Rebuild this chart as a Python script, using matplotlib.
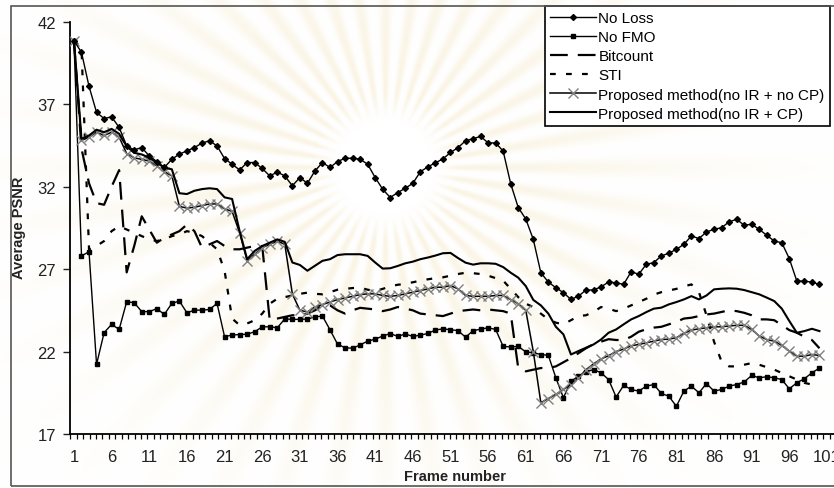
import numpy as np
import matplotlib
matplotlib.use("Agg")
import matplotlib.pyplot as plt
from matplotlib.patches import Rectangle
from matplotlib.lines import Line2D

# ---------------------------------------------------------------- data
frames = list(range(1, 101))
x_tick_values = list(range(1, 102, 5))
x_tick_labels = [str(v) for v in x_tick_values]
y_ticks = [17, 22, 27, 32, 37, 42]

no_loss = [40.85, 40.14, 38.08, 36.5, 36.13, 36.23, 35.59, 34.47, 34.23, 34.37,
           33.86, 33.52, 33.16, 33.66, 33.97, 34.17, 34.37, 34.64, 34.78, 34.47,
           33.7, 33.36, 33.01, 33.46, 33.46, 33.1, 32.65, 32.88, 32.65, 32.05,
           32.55, 32.2, 32.95, 33.46, 33.16, 33.52, 33.72, 33.72, 33.66, 33.36,
           32.55, 31.84, 31.34, 31.64, 31.9, 32.2, 32.9, 33.2, 33.44, 33.68,
           34.07, 34.36, 34.78, 34.9, 35.05, 34.65, 34.65, 34.15, 32.17, 30.73,
           30.04, 28.8, 26.78, 26.21, 25.87, 25.57, 25.16, 25.36, 25.73, 25.73,
           25.93, 26.21, 26.17, 26.07, 26.85, 26.68, 27.29, 27.39, 27.8, 27.96,
           28.2, 28.5, 29.01, 28.85, 29.25, 29.41, 29.51, 29.86, 30.02, 29.66,
           29.72, 29.41, 29.05, 28.7, 28.6, 27.63, 26.27, 26.27, 26.21, 26.07]

no_fmo = [40.85, 27.8, 28.05, 21.22, 23.14, 23.65, 23.34, 25.02, 24.96, 24.42,
          24.42, 24.6, 24.25, 24.92, 25.06, 24.35, 24.51, 24.51, 24.55, 24.92,
          22.9, 23.0, 23.03, 23.05, 23.2, 23.5, 23.5, 23.44, 23.98, 23.95,
          23.95, 23.97, 24.1, 24.15, 23.32, 22.45, 22.23, 22.2, 22.4, 22.63,
          22.75, 22.94, 23.09, 22.92, 23.06, 22.92, 22.99, 23.1, 23.3, 23.38,
          23.32, 23.27, 22.87, 23.26, 23.36, 23.44, 23.34, 22.31, 22.28, 22.31,
          21.98, 21.93, 21.82, 21.77, 20.4, 19.2, 20.2, 20.5, 20.76, 20.91,
          20.71, 20.3, 19.24, 19.95, 19.7, 19.6, 19.9, 20.0, 19.46, 19.29,
          18.68, 19.6, 19.9, 19.5, 20.06, 19.6, 19.7, 19.9, 20.0, 20.15,
          20.55, 20.41, 20.47, 20.41, 20.3, 19.74, 20.11, 20.35, 20.71, 21.0]

bitcount = [40.85, 34.3, 32.2, 31.0, 30.9, 32.0, 33.0, 26.8, 28.4, 30.2,
            29.4, 28.6, 28.9, 29.1, 29.3, 29.7, 29.3, 28.3, 28.5, 28.7,
            28.4, 28.2, 28.2, 28.3, 28.4, 28.4, 23.9, 24.0, 24.1, 24.2,
            24.2, 24.3, 24.5, 24.8, 24.8, 24.5, 24.3, 24.5, 24.65, 24.6,
            24.55, 24.45, 24.55, 24.7, 24.6, 24.5, 24.3, 24.25, 24.2, 24.15,
            24.3, 24.45, 24.5, 24.55, 24.5, 24.55, 24.5, 24.45, 24.3, 21.0,
            20.8, 20.9, 21.0, 21.0, 21.1, 21.35, 21.6, 21.9, 22.2, 22.45,
            22.6, 22.75, 22.7, 22.7, 22.9, 23.2, 23.35, 23.45, 23.5, 23.65,
            23.8, 24.0, 24.05, 24.15, 24.25, 24.3, 24.4, 24.5, 24.45, 24.35,
            24.2, 23.95, 23.95, 23.9, 23.6, 23.3, 23.14, 22.9, 22.7, 22.2]

sti = [40.85, 40.4, 28.2, 28.4, 28.7, 29.3, 29.6, 29.4, 29.2, 29.0,
       28.8, 28.7, 28.8, 29.0, 29.1, 29.3, 29.2, 29.0, 28.6, 28.2,
       26.9, 24.0, 23.6, 23.7, 23.9, 24.3, 24.9, 25.2, 25.3, 25.4,
       25.5, 25.57, 25.5, 25.47, 25.6, 25.75, 25.8, 25.85, 25.87, 25.75,
       25.67, 25.8, 25.95, 26.05, 26.1, 26.2, 26.3, 26.38, 26.45, 26.5,
       26.6, 26.7, 26.78, 26.75, 26.7, 26.6, 26.45, 26.3, 25.8, 25.3,
       24.9, 24.7, 24.3, 23.95, 23.75, 23.65, 23.9, 24.15, 24.2, 24.4,
       24.7, 24.6, 24.45, 24.6, 24.8, 25.0, 25.2, 25.45, 25.6, 25.7,
       25.8, 25.95, 26.07, 25.6, 24.2, 22.6, 21.4, 21.1, 21.1, 21.2,
       21.3, 21.2, 21.05, 20.9, 20.7, 20.5, 20.3, 20.1, 20.0, 20.1]

proposed_no_cp = [40.85, 34.8, 35.0, 35.3, 35.1, 35.3, 35.0, 34.0, 33.75, 33.65,
                  33.55, 33.25, 32.9, 32.65, 30.8, 30.7, 30.75, 30.85, 30.95, 30.95,
                  30.65, 30.5, 29.2, 27.5, 27.9, 28.3, 28.5, 28.7, 28.5, 25.5,
                  24.5, 24.4, 24.7, 24.85, 25.0, 25.15, 25.25, 25.35, 25.45, 25.5,
                  25.5, 25.4, 25.35, 25.4, 25.5, 25.6, 25.7, 25.8, 25.9, 25.9,
                  26.0, 25.8, 25.4, 25.35, 25.35, 25.35, 25.4, 25.4, 25.15, 24.9,
                  24.5, 22.0, 18.9, 19.15, 19.4, 19.7, 20.0, 20.4, 20.9, 21.25,
                  21.55, 21.75, 22.0, 22.15, 22.35, 22.43, 22.53, 22.63, 22.73, 22.75,
                  22.84, 23.1, 23.3, 23.38, 23.44, 23.5, 23.5, 23.55, 23.59, 23.59,
                  23.34, 22.94, 22.73, 22.63, 22.37, 22.03, 21.72, 21.72, 21.82, 21.76]

proposed_cp = [40.85, 34.9, 35.1, 35.45, 35.3, 35.5, 35.2, 34.45, 34.05, 33.95,
               33.75, 33.45, 33.15, 33.05, 31.6, 31.55, 31.75, 31.85, 31.9, 31.85,
               31.35, 31.25, 29.3, 27.6, 28.1, 28.4, 28.6, 28.8, 28.65, 27.4,
               27.25, 26.9, 27.2, 27.5, 27.6, 27.85, 27.9, 27.9, 27.9, 27.8,
               27.4, 27.03, 27.05, 27.19, 27.35, 27.45, 27.6, 27.7, 27.82, 27.96,
               27.98, 27.67, 27.39, 27.27, 27.35, 27.35, 27.32, 27.12, 26.78, 26.48,
               25.97, 25.13, 24.8, 24.3, 23.5, 23.04, 21.82, 22.03, 22.23, 22.43,
               22.73, 23.14, 23.34, 23.65, 23.95, 24.15, 24.39, 24.6, 24.66, 24.86,
               25.0, 25.16, 25.36, 25.16, 25.4, 25.77, 25.81, 25.83, 25.81, 25.73,
               25.6, 25.47, 25.27, 25.06, 24.6, 23.85, 23.14, 23.24, 23.38, 23.24]

series_labels = ["No Loss", "No FMO", "Bitcount", "STI",
                 "Proposed method(no IR + no CP)", "Proposed method(no IR + CP)"]

# ---------------------------------------------------------------- figure
plt.rcParams['font.family'] = ['Liberation Sans', 'DejaVu Sans']
W, H = 834, 489
fig = plt.figure(figsize=(W / 100, H / 100), dpi=100)

# faint, soft sunburst emblem behind the plot
bg = fig.add_axes([0, 0, 1, 1], zorder=0)
bg.axis('off')
cx, cy = 385, 168
yy, xx = np.mgrid[0:H, 0:W].astype(float)
dx, dy = xx - cx, yy - cy
r = np.hypot(dx, dy)
th = np.arctan2(dy, dx)
rays = (0.5 + 0.5 * np.cos(40 * th)) ** 1.5
inner = np.clip((r - 48) / 25.0, 0, 1)
outer = np.exp(-((r - 60) / 240.0) ** 2)
strength = 0.32 * rays * inner * outer
tint = np.array([0.94, 0.87, 0.68])
img = 1 - strength[..., None] * (1 - tint[None, None, :])
bg.imshow(img, extent=(0, W, H, 0), interpolation='bilinear')
bg.set_xlim(0, W)
bg.set_ylim(H, 0)

ax = fig.add_axes([70.2 / W, (H - 435) / H, (834.5 - 70.2) / W, (435 - 22.7) / H],
                  zorder=1)
ax.patch.set_alpha(0)

ax.plot(frames, no_loss, color='black', lw=1.0, marker='D', ms=3.0,
        mfc='black', mec='black', zorder=6)
ax.plot(frames, no_fmo, color='black', lw=1.0, marker='s', ms=3.3,
        mfc='black', mec='black', zorder=5)
ax.plot(frames, bitcount, color='black', lw=1.6, dashes=(8, 4.5), zorder=4)
ax.plot(frames, sti, color='black', lw=1.6, dashes=(2.6, 4.6), zorder=4)
ax.plot(frames, proposed_no_cp, color='black', lw=1.1, marker='x', ms=6.5,
        mec='#808080', mew=1.0, zorder=5)
ax.plot(frames, proposed_cp, color='black', lw=1.5, zorder=5)

ax.set_xlim(0.5, 102)
ax.set_ylim(17, 42)
for side in ('top', 'right'):
    ax.spines[side].set_visible(False)
for side in ('left', 'bottom'):
    ax.spines[side].set_linewidth(1.3)

ax.set_yticks(y_ticks)
ax.set_yticklabels([str(v) for v in y_ticks])
ax.tick_params(axis='y', direction='out', length=4.8, width=1.0, pad=5.5,
               labelsize=12, colors='#222222')
ax.set_xticks(x_tick_values)
ax.set_xticklabels(x_tick_labels)
ax.tick_params(axis='x', which='major', length=0, pad=11, labelsize=12,
               colors='#222222')
ax.set_xticks(np.arange(0.5, 102, 0.855), minor=True)
ax.tick_params(axis='x', which='minor', direction='out', length=3.6, width=0.9)

fig.text(19 / W, 1 - 228 / H, "Average PSNR", rotation=90, ha='center',
         va='center', fontsize=10.5, fontweight='bold', color='#222222')
fig.text(455 / W, 1 - 477 / H, "Frame number", ha='center', va='center',
         fontsize=10.5, fontweight='bold', color='#222222')

handles = [
    Line2D([], [], color='black', lw=1.0, marker='D', ms=3.0),
    Line2D([], [], color='black', lw=1.0, marker='s', ms=3.3),
    Line2D([], [], color='black', lw=1.6, dashes=(8, 4.5)),
    Line2D([], [], color='black', lw=1.6, dashes=(2.6, 4.6)),
    Line2D([], [], color='black', lw=1.1, marker='x', ms=6.5, mec='#808080', mew=1.0),
    Line2D([], [], color='black', lw=1.5),
]
leg = fig.legend(handles, series_labels, loc='upper left',
                 bbox_to_anchor=(545 / W, 1 - 7 / H), bbox_transform=fig.transFigure,
                 frameon=True, fancybox=False, edgecolor='black', framealpha=1,
                 borderaxespad=0, borderpad=0.35, handlelength=3.0,
                 handletextpad=0.15, labelspacing=0.33, fontsize=11, numpoints=1)
leg.get_frame().set_linewidth(1.2)
leg.set_zorder(10)

# outer frame of the figure
fig.patches.append(Rectangle((11 / W, 2 / H), 1.2, (487 - 7) / H, fill=False,
                             edgecolor='#555555', lw=1.2,
                             transform=fig.transFigure, zorder=20))

fig.savefig("out.png", dpi=100)
